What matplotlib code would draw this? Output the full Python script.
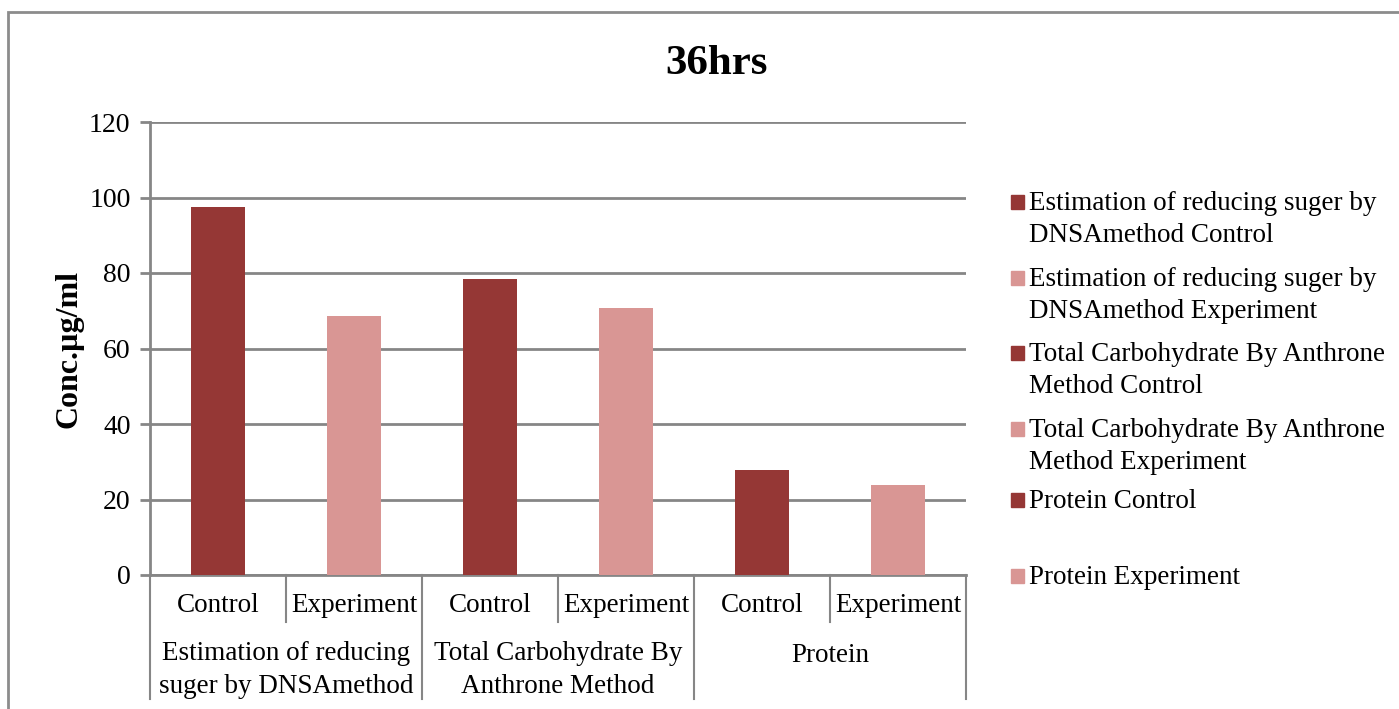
import matplotlib.pyplot as plt
from matplotlib.patches import Rectangle
from matplotlib import transforms

plt.rcParams['font.family'] = ['Liberation Serif', 'DejaVu Serif']

# data
groups = ["Estimation of reducing\nsuger by DNSAmethod", "Total Carbohydrate By\nAnthrone Method", "Protein"]
subs = ["Control", "Experiment"]
values = [97.6, 68.7, 78.3, 70.6, 27.9, 23.9]
series = ["Estimation of reducing suger by\nDNSAmethod Control",
          "Estimation of reducing suger by\nDNSAmethod Experiment",
          "Total Carbohydrate By Anthrone\nMethod Control",
          "Total Carbohydrate By Anthrone\nMethod Experiment",
          "Protein Control",
          "Protein Experiment"]
colors = ['#953735', '#D99694'] * 3

W, H = 1399, 709
fig = plt.figure(figsize=(W / 100, H / 100), dpi=100)

# outer chart border (right/bottom edges cut off in the reference)
fig.add_artist(Rectangle((8 / W, -0.1), 1.2, 1.1 - 12 / H, transform=fig.transFigure,
                         fill=False, edgecolor='#8c8c8c', linewidth=2))

ax = fig.add_axes([150 / W, 1 - 575 / H, (966 - 150) / W, (575 - 122) / H])

x = list(range(len(values)))
for i in x:
    ax.bar(i, values[i], width=0.4, color=colors[i], label=series[i], zorder=3)

ax.set_xlim(-0.5, len(values) - 0.5)
ax.set_ylim(0, 120)
ax.set_yticks(range(0, 121, 20))
ax.yaxis.grid(True, color='#868686', linewidth=2, zorder=0)
ax.set_xticks([])
for s in ['top', 'right']:
    ax.spines[s].set_visible(False)
for s in ['left', 'bottom']:
    ax.spines[s].set_color('#868686')
    ax.spines[s].set_linewidth(2)
ax.tick_params(axis='y', labelsize=20, length=7, width=2, color='#868686', pad=7)
ax.set_ylabel("Conc.µg/ml", fontsize=23, fontweight='bold', labelpad=4)

fig.text(716 / W, 1 - 64 / H, "36hrs", fontsize=31, fontweight='bold', ha='center', va='center')

# multi-level category axis
tr = transforms.blended_transform_factory(ax.transData, fig.transFigure)
line_kw = dict(color='#868686', linewidth=1.5, transform=tr, clip_on=False)
for i in x:
    ax.text(i, 1 - 606 / H, subs[i % 2], fontsize=19.5, ha='center', va='center', transform=tr)
for g in range(len(groups)):
    ax.text(2 * g + 0.5, 1 - 670 / H if '\n' in groups[g] else 1 - 655 / H, groups[g],
            fontsize=19.5, ha='center', va='center', transform=tr, linespacing=1.38)
    ax.plot([2 * g + 0.5, 2 * g + 0.5], [1 - 575 / H, 1 - 622 / H], **line_kw)
for b in [-0.5, 1.5, 3.5, 5.5]:
    ax.plot([b, b], [1 - 575 / H, 1 - 699 / H], **line_kw)

# legend drawn as squares + text to match the original layout
leg_y = [202, 278, 353, 429, 500, 576]
for lab, col, yy in zip(series, colors, leg_y):
    fig.add_artist(Rectangle((1011 / W, 1 - (yy + 7) / H), 13 / W, 14 / H,
                             transform=fig.transFigure, color=col))
    fig.text(1029 / W, 1 - (yy - 11) / H, lab, fontsize=19.5, ha='left', va='top', linespacing=1.38)

fig.savefig("out.png", dpi=100)
